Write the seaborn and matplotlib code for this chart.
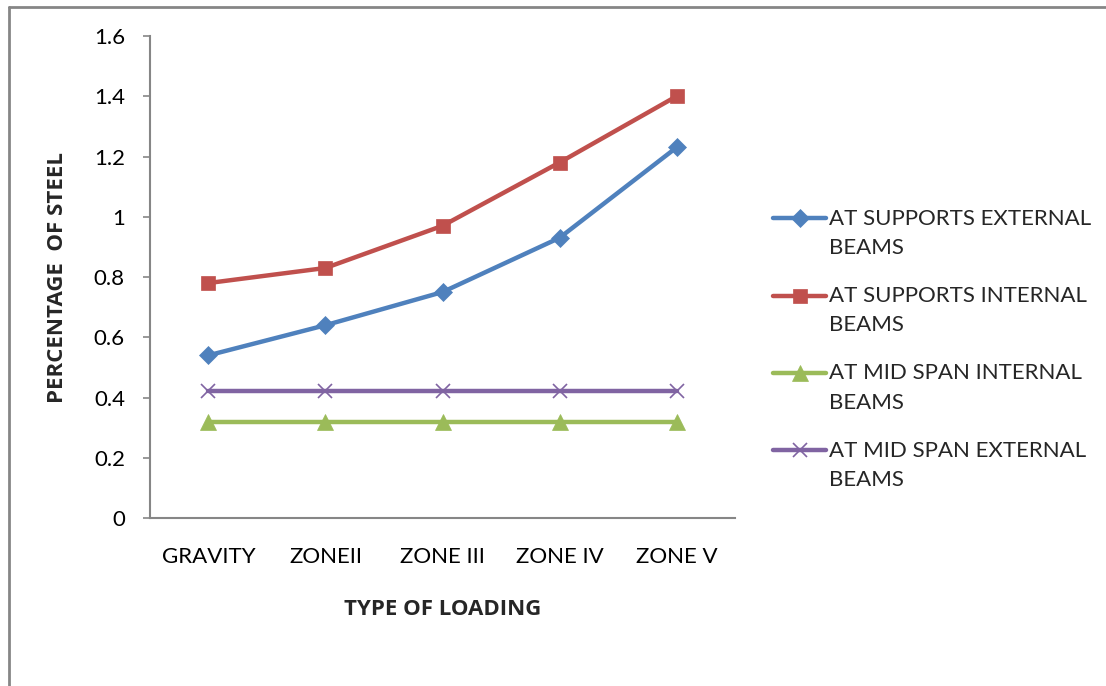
import matplotlib
matplotlib.use("Agg")
import matplotlib.pyplot as plt
from matplotlib.lines import Line2D
from matplotlib.legend_handler import HandlerLine2D
import seaborn as sns
import pandas as pd

loading = ["GRAVITY", "ZONEII", "ZONE III", "ZONE IV", "ZONE V"]
supports_external = [0.54, 0.64, 0.75, 0.93, 1.23]
supports_internal = [0.78, 0.83, 0.97, 1.18, 1.40]
midspan_internal = [0.32, 0.32, 0.32, 0.32, 0.32]
midspan_external = [0.42, 0.42, 0.42, 0.42, 0.42]
y_ticks = [0, 0.2, 0.4, 0.6, 0.8, 1, 1.2, 1.4, 1.6]
y_tick_labels = ["0", "0.2", "0.4", "0.6", "0.8", "1", "1.2", "1.4", "1.6"]

series = [
    ("AT SUPPORTS EXTERNAL\nBEAMS", supports_external, "#4F81BD", "D", 9.5),
    ("AT SUPPORTS INTERNAL\nBEAMS", supports_internal, "#C0504D", "s", 10.5),
    ("AT MID SPAN INTERNAL\nBEAMS", midspan_internal, "#9BBB59", "^", 12),
    ("AT MID SPAN EXTERNAL\nBEAMS", midspan_external, "#8064A2", "x", 10.5),
]


class TopLineHandler(HandlerLine2D):
    """Legend handle drawn beside the first line of a two-line label."""

    def __init__(self, shift, **kw):
        super().__init__(**kw)
        self.shift = shift

    def create_artists(self, legend, orig_handle, xdescent, ydescent,
                       width, height, fontsize, trans):
        return super().create_artists(legend, orig_handle, xdescent,
                                      ydescent - self.shift, width, height,
                                      fontsize, trans)


sns.set_style("white")
plt.rcParams["font.family"] = ["Lato", "DejaVu Sans"]

fig = plt.figure(figsize=(11.06, 6.86), dpi=100)
ax = fig.add_axes([0.1356, 0.2449, 0.5290, 0.7026])

for label, values, color, marker, ms in series:
    df = pd.DataFrame({"loading": loading, "value": values})
    sns.lineplot(data=df, x="loading", y="value", ax=ax, color=color,
                 marker=marker, markersize=ms, linewidth=3.2,
                 markeredgecolor=color, markeredgewidth=1.2 if marker == "x" else 0.5,
                 label=label, sort=False)

ax.set_xlim(-0.5, 4.5)
ax.set_ylim(0, 1.6)
ax.set_yticks(y_ticks)
ax.set_yticklabels(y_tick_labels)

for side in ["top", "right"]:
    ax.spines[side].set_visible(False)
for side in ["left", "bottom"]:
    ax.spines[side].set_color("#868686")
    ax.spines[side].set_linewidth(1.5)

ax.tick_params(axis="y", which="major", left=True, length=5, width=1.2,
               color="#868686", pad=13, labelsize=16, labelcolor="black")
ax.tick_params(axis="x", which="major", bottom=False, length=0, pad=21,
               labelsize=16, labelcolor="black")

bold_font = dict(family=["Open Sans", "DejaVu Sans"], fontweight="bold", fontsize=16)
ax.set_xlabel("TYPE OF LOADING", **bold_font)
ax.set_ylabel("PERCENTAGE  OF STEEL", **bold_font)
ax.xaxis.set_label_coords(0.5, -0.168)
ax.yaxis.set_label_coords(-0.14, 0.5)

ax.get_legend().remove()
handles, labels = ax.get_legend_handles_labels()
leg = fig.legend(handles, labels, loc="upper left", bbox_to_anchor=(0.691, 0.709),
                 frameon=False, fontsize=16, handlelength=2.4, handletextpad=0.1,
                 labelspacing=1.25, borderaxespad=0,
                 handler_map={Line2D: TopLineHandler(shift=22)})
for t in leg.get_texts():
    t.set_linespacing(1.6)

# outer chart frame (top and left edges)
fig.add_artist(Line2D([9 / 1106, 1.0], [1 - 7 / 686, 1 - 7 / 686],
                      transform=fig.transFigure, color="#868686", linewidth=2))
fig.add_artist(Line2D([9 / 1106, 9 / 1106], [0.0, 1 - 7 / 686],
                      transform=fig.transFigure, color="#868686", linewidth=2))

fig.savefig("out.png", dpi=100)
